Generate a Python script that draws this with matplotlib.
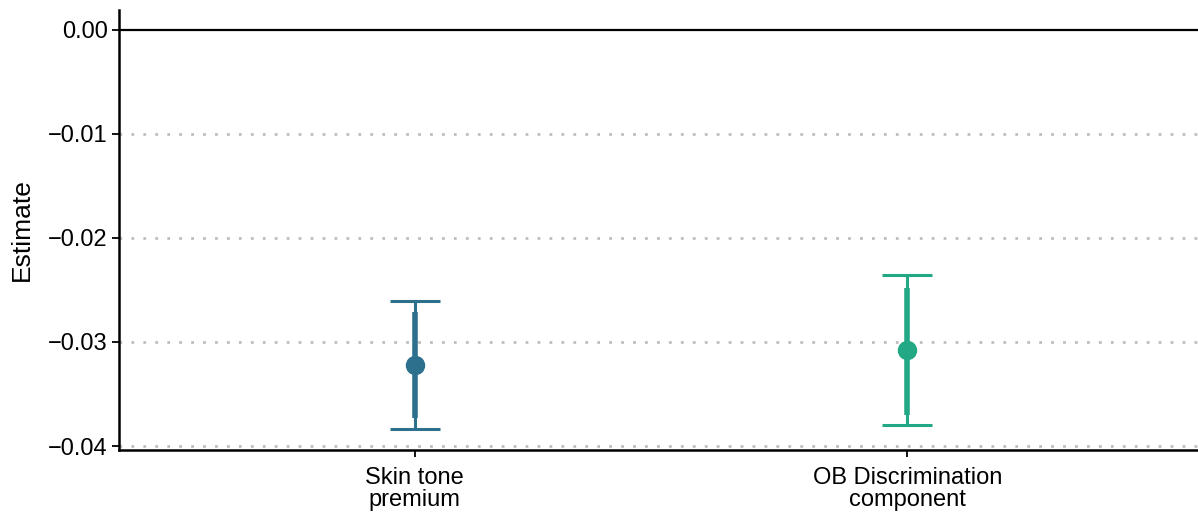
import matplotlib.pyplot as plt

plt.rcParams['font.family'] = ['Liberation Sans', 'DejaVu Sans']

labels = ['Skin tone\npremium', 'OB Discrimination\ncomponent']
estimate = [-0.0322, -0.0308]
ci95_low = [-0.0384, -0.0380]
ci95_high = [-0.0261, -0.0236]
ci90_low = [-0.0373, -0.0370]
ci90_high = [-0.0271, -0.0248]
colors = ['#2C708E', '#22A884']

fig = plt.figure(figsize=(11.98, 5.13), dpi=100)
ax = fig.add_axes([119/1198, 63/513, 1 - 119/1198, 440/513])

ax.axhline(0, color='black', lw=1.6, zorder=1)
for yv in [-0.01, -0.02, -0.03, -0.04]:
    ax.axhline(yv, color='#BEBEBE', lw=2, ls=(0, (1, 3.3)), zorder=0)

for i in range(len(labels)):
    x = i + 1
    ax.errorbar(x, estimate[i], yerr=[[estimate[i] - ci95_low[i]], [ci95_high[i] - estimate[i]]],
                fmt='none', ecolor=colors[i], elinewidth=2.2, capsize=18, capthick=2.2, zorder=2)
    ax.vlines(x, ci90_low[i], ci90_high[i], color=colors[i], lw=4, zorder=3)
    ax.plot(x, estimate[i], 'o', color=colors[i], ms=13, zorder=4)

ax.set_xlim(0.4, 2.59)
ax.set_ylim(-0.04038, 0.0019)
ax.set_xticks([1, 2])
ax.set_xticklabels(labels, fontsize=17, linespacing=1.0)
ax.set_yticks([0, -0.01, -0.02, -0.03, -0.04])
ax.set_yticklabels(['0.00', '\u22120.01', '\u22120.02', '\u22120.03', '\u22120.04'], fontsize=17)
ax.set_ylabel('Estimate', fontsize=19, labelpad=10)
ax.tick_params(length=5, width=1.3, color='black', pad=3)
ax.tick_params(axis='x', pad=7)

for s in ['top', 'right']:
    ax.spines[s].set_visible(False)
for s in ['left', 'bottom']:
    ax.spines[s].set_linewidth(1.8)

fig.savefig('out.png', dpi=100)
